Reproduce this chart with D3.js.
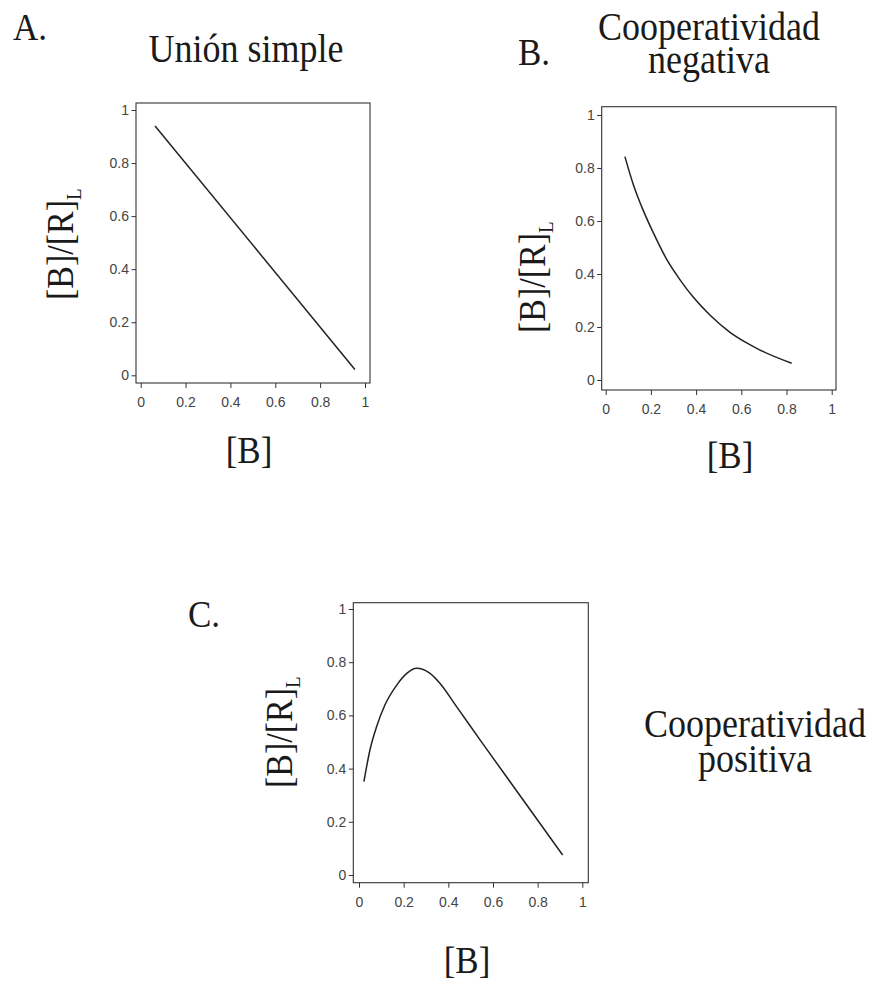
<!DOCTYPE html>
<html>
<head>
<meta charset="utf-8">
<script src="https://cdn.jsdelivr.net/npm/d3@7"></script>
<style>
  html, body { margin: 0; padding: 0; background: #fff; }
  svg { display: block; }
  .serif { font-family: "Liberation Serif", "Times New Roman", serif; fill: #1a1a1a; }
  .tick text { font-family: "Liberation Sans", Arial, sans-serif; fill: #444; }
</style>
</head>
<body>
<script>
// ---- data ----
const tickValues = [0, 0.2, 0.4, 0.6, 0.8, 1];
const tickLabels = ["0", "0.2", "0.4", "0.6", "0.8", "1"];

// A. Unión simple
const simpleX = [0.064, 0.955];
const simpleY = [0.940, 0.022];

// B. Cooperatividad negativa
const negX = [0.085, 0.122, 0.166, 0.211, 0.270, 0.329, 0.388, 0.461, 0.550, 0.624, 0.683, 0.823];
const negY = [0.843, 0.738, 0.640, 0.555, 0.455, 0.378, 0.312, 0.245, 0.180, 0.140, 0.113, 0.063];

// C. Cooperatividad positiva
const posX = [0.022, 0.049, 0.079, 0.116, 0.169, 0.214, 0.258, 0.318, 0.363, 0.437, 0.542, 0.912];
const posY = [0.351, 0.470, 0.558, 0.639, 0.714, 0.758, 0.777, 0.758, 0.720, 0.633, 0.508, 0.075];

const panelLetters = ["A.", "B.", "C."];
const titles = [["Unión simple"], ["Cooperatividad", "negativa"], ["Cooperatividad", "positiva"]];
const yLabelMain = "[B]/[R]";
const yLabelSub = "L";
const xLabel = "[B]";

// ---- layout ----
const W = 872, H = 984;
const SY = 1.1; // slight vertical stretch of serif lettering in the reference
const svg = d3.select("body").append("svg").attr("width", W).attr("height", H);

const panels = [
  { frame: [136, 103, 370, 383], x: [140.7, 365], y: [375.3, 110], xs: simpleX, ys: simpleY,
    letter: [13, 40], titlePos: [246, 62], titleDy: 0,
    yLab: [73, 300], xLab: [249, 463] },
  { frame: [601.7, 106.7, 836, 390], x: [605.7, 831.7], y: [380, 115], xs: negX, ys: negY,
    letter: [518, 65], titlePos: [709, 40], titleDy: 33,
    yLab: [545, 333], xLab: [730, 468] },
  { frame: [353.3, 602.7, 588.3, 882.7], x: [359, 582.3], y: [875, 609], xs: posX, ys: posY,
    letter: [188, 627], titlePos: [755, 737], titleDy: 35,
    yLab: [292, 788], xLab: [467, 973] }
];

function serifText(x, y, size, str, anchor) {
  return svg.append("text").attr("class", "serif")
    .attr("transform", `translate(${x},${y}) scale(1,${SY})`)
    .attr("text-anchor", anchor || "start")
    .style("font-size", size + "px").text(str);
}

panels.forEach((p, i) => {
  const g = svg.append("g");
  const x = d3.scaleLinear().domain([0, 1]).range(p.x);
  const y = d3.scaleLinear().domain([0, 1]).range(p.y);
  const [fx0, fy0, fx1, fy1] = p.frame;

  // frame
  g.append("rect")
    .attr("x", fx0).attr("y", fy0)
    .attr("width", fx1 - fx0).attr("height", fy1 - fy0)
    .attr("fill", "none").attr("stroke", "#333").attr("stroke-width", 1.1);

  // x axis
  const xa = g.append("g").attr("transform", `translate(0,${fy1})`)
    .call(d3.axisBottom(x).tickValues(tickValues).tickFormat((d, k) => tickLabels[k])
      .tickSize(5).tickPadding(9).tickSizeOuter(0));
  xa.select(".domain").remove();
  xa.selectAll("line").attr("stroke", "#333");
  xa.selectAll("text").style("font-size", "14px");

  // y axis
  const ya = g.append("g").attr("transform", `translate(${fx0},0)`)
    .call(d3.axisLeft(y).tickValues(tickValues).tickFormat((d, k) => tickLabels[k])
      .tickSize(4.5).tickPadding(2.5).tickSizeOuter(0));
  ya.select(".domain").remove();
  ya.selectAll("line").attr("stroke", "#333");
  ya.selectAll("text").style("font-size", "14px");

  // curve
  const pts = p.xs.map((v, k) => [v, p.ys[k]]);
  g.append("path")
    .datum(pts)
    .attr("fill", "none").attr("stroke", "#222").attr("stroke-width", 1.5)
    .attr("d", d3.line().x(d => x(d[0])).y(d => y(d[1])).curve(d3.curveMonotoneX));

  // panel letter
  serifText(p.letter[0], p.letter[1], 35, panelLetters[i]);

  // title
  titles[i].forEach((t, k) => {
    serifText(p.titlePos[0], p.titlePos[1] + k * p.titleDy, 36, t, "middle");
  });

  // y label
  const yl = svg.append("text").attr("class", "serif")
    .attr("transform", `translate(${p.yLab[0]},${p.yLab[1]}) rotate(-90) scale(1,${SY})`)
    .style("font-size", "34px");
  yl.append("tspan").text(yLabelMain);
  yl.append("tspan").attr("dy", 7).style("font-size", "19px").text(yLabelSub);

  // x label
  serifText(p.xLab[0], p.xLab[1], 35, xLabel, "middle");
});
</script>
</body>
</html>
